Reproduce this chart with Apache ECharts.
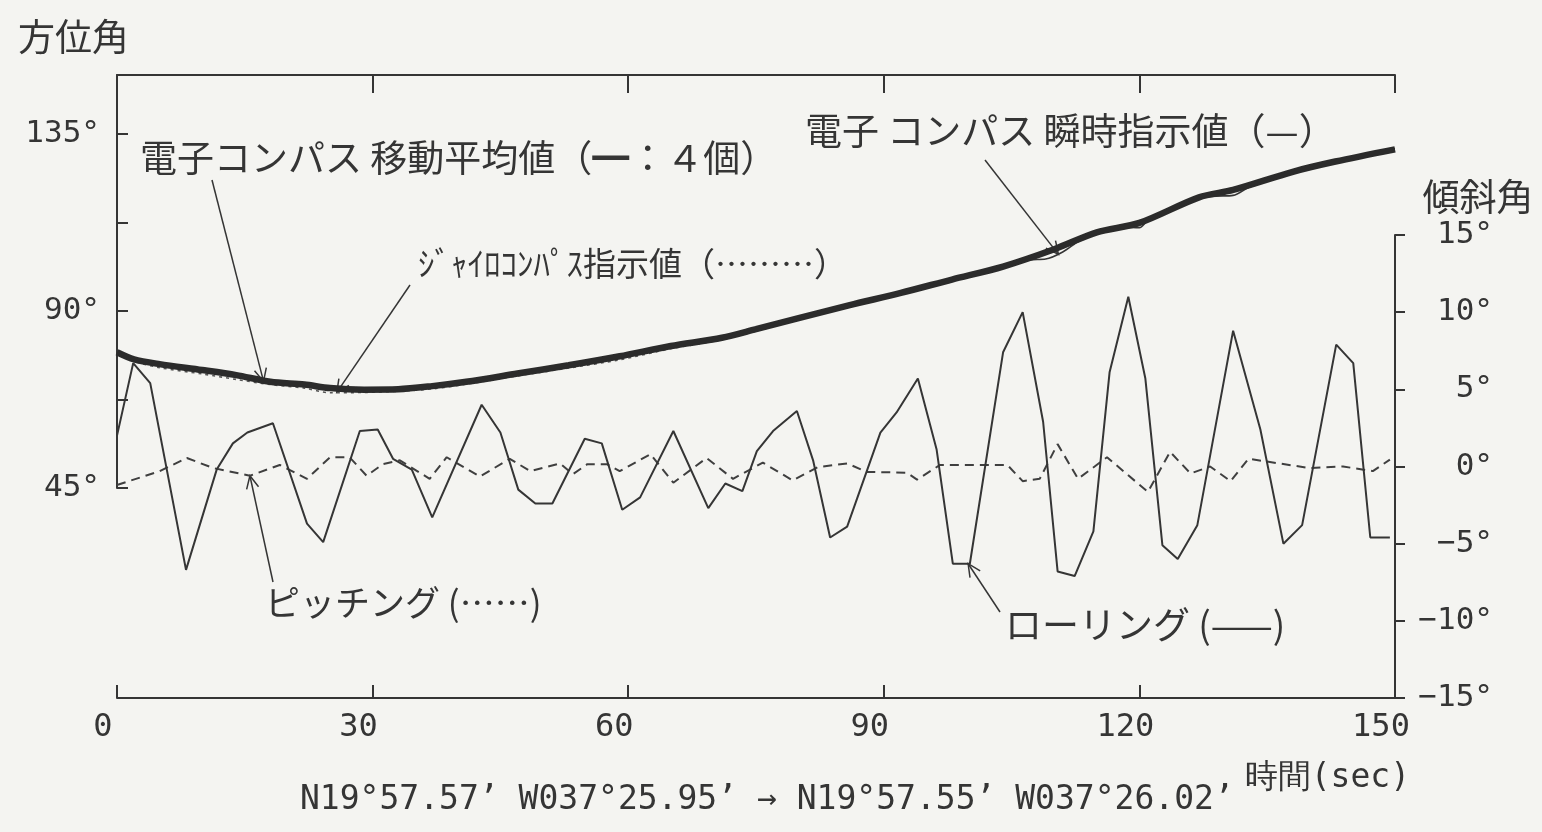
<!DOCTYPE html>
<html>
<head>
<meta charset="utf-8">
<script src="https://cdn.jsdelivr.net/npm/echarts@6/dist/echarts.min.js"></script>
<style>
  html, body { margin: 0; padding: 0; background: #f4f4f1; }
  #chart { width: 1542px; height: 832px; }
</style>
</head>
<body>
<div id="chart"></div>
<script>
// 時間 (sec)
const headingTime = [0, 2, 5, 10, 14, 18, 22, 25, 29, 33, 37, 41, 47, 53, 59, 65, 71, 75, 80, 86, 92, 98, 104, 110, 115, 120, 127, 131, 138, 143, 150];
// 電子コンパス 移動平均値 (4個)
const compassAvg = [79.5, 77.7, 76.5, 75.0, 73.7, 72.0, 71.3, 70.4, 70.0, 70.1, 70.9, 72.0, 74.1, 76.2, 78.5, 81.1, 83.2, 85.4, 88.2, 91.5, 94.6, 98.0, 101.3, 105.7, 110.0, 112.4, 118.9, 120.8, 125.4, 128.0, 131.1];
// ジャイロコンパス指示値 (same times)
const gyroHeading = [79.0, 77.2, 75.6, 74.0, 72.6, 71.3, 70.4, 69.2, 69.3, 69.6, 70.2, 71.4, 73.5, 75.5, 77.6, 80.4, 82.7, 84.9, 87.8, 91.1, 94.2, 97.6, 100.9, 105.2, 109.5, 112.0, 118.5, 120.3, 125.0, 127.6, 130.8];
// 電子コンパス 瞬時指示値
const instTime = [0, 2, 5, 10, 14, 18, 22, 25, 29, 33, 37, 41, 47, 53, 59, 65, 71, 75, 80, 86, 92, 98, 104, 107, 109, 111, 113, 115, 118, 120, 121, 127, 129, 131, 133, 138, 143, 150];
const compassInst = [79.8, 77.5, 76.7, 74.8, 73.9, 71.8, 71.5, 70.2, 70.1, 69.9, 71.1, 71.8, 74.3, 76.0, 78.7, 80.9, 83.4, 85.2, 88.4, 91.3, 94.8, 97.8, 101.5, 103.0, 103.2, 105.0, 107.9, 109.8, 111.3, 111.2, 113.0, 118.7, 119.2, 119.4, 121.6, 125.2, 128.2, 131.3];

// ローリング (deg)
const rollTime = [0, 1.9, 3.9, 8.1, 11.7, 13.6, 15.3, 18.3, 22.3, 24.2, 28.5, 30.6, 32.4, 34.6, 37.0, 42.8, 45.0, 47.1, 49.1, 51.1, 54.9, 56.9, 59.3, 61.4, 65.3, 69.4, 71.4, 73.4, 75.1, 77.0, 79.8, 81.7, 83.7, 85.7, 89.6, 91.5, 94.0, 96.2, 98.1, 100.1, 104.0, 106.3, 108.7, 110.4, 112.4, 114.6, 116.5, 118.7, 120.7, 122.7, 124.5, 126.8, 131.0, 134.2, 136.9, 139.1, 143.1, 145.1, 147.1, 149.4];
const rollDeg = [2.0, 6.7, 5.4, -6.7, -0.2, 1.5, 2.2, 2.8, -3.7, -4.9, 2.3, 2.4, 0.5, -0.2, -3.3, 4.0, 2.2, -1.5, -2.4, -2.4, 1.8, 1.5, -2.8, -2.0, 2.3, -2.7, -1.1, -1.6, 1.0, 2.3, 3.6, 0.4, -4.6, -3.9, 2.2, 3.5, 5.7, 1.1, -6.3, -6.3, 7.4, 10.0, 2.9, -6.8, -7.1, -4.2, 6.1, 11.0, 5.7, -5.1, -6.0, -3.8, 8.8, 2.4, -5.0, -3.8, 7.9, 6.7, -4.6, -4.6];

// ピッチング (deg)
const pitchTime = [0, 5.0, 8.2, 11.3, 15.6, 19.1, 22.3, 25.0, 27.3, 29.3, 31.2, 33.2, 36.7, 38.7, 42.6, 46.1, 48.5, 52.0, 53.5, 55.2, 57.5, 59.0, 62.6, 65.3, 69.2, 72.3, 75.8, 79.3, 82.2, 85.7, 88.0, 92.7, 93.9, 96.6, 104.5, 106.3, 108.3, 110.4, 112.8, 116.2, 121.0, 123.6, 126.0, 128.3, 130.7, 132.8, 140.0, 143.9, 147.4, 149.4];
const pitchDeg = [-1.2, -0.3, 0.55, -0.1, -0.6, 0.1, -0.8, 0.6, 0.6, -0.6, 0.15, 0.4, -0.8, 0.6, -0.65, 0.5, -0.3, 0.2, -0.5, 0.15, 0.15, -0.3, 0.8, -1.05, 0.55, -0.8, 0.25, -0.9, -0.05, 0.2, -0.35, -0.4, -0.85, 0.1, 0.1, -0.95, -0.8, 1.45, -0.8, 0.6, -1.65, 0.95, -0.45, 0, -0.95, 0.5, -0.1, 0, -0.3, 0.45];

const position = 'N19°57.57’ W037°25.95’ → N19°57.55’ W037°26.02’';

const ink = '#353535';
const jp = '"Noto Sans CJK JP", sans-serif';
const mono = '"DejaVu Sans Mono", monospace';

const pairs = (ts, vs) => ts.map((t, i) => [t, vs[i]]);

const chart = echarts.init(document.getElementById('chart'));

chart.setOption({
  animation: false,
  backgroundColor: '#f4f4f1',
  title: {
    text: position,
    left: 300,
    top: 784,
    padding: 0,
    textStyle: { fontFamily: mono, fontSize: 33, fontWeight: 'normal', color: ink }
  },
  grid: [
    // 方位角
    { left: 117, top: 75, width: 1278, height: 413 },
    // 傾斜角
    { left: 117, top: 235, width: 1278, height: 463 }
  ],
  xAxis: [
    {
      gridIndex: 0, type: 'value', position: 'top', min: 0, max: 150, interval: 30,
      axisLine: { onZero: false, lineStyle: { color: ink, width: 2 } },
      axisTick: { inside: true, length: 18, lineStyle: { color: ink, width: 2 } },
      axisLabel: { show: false },
      splitLine: { show: false }
    },
    {
      gridIndex: 1, type: 'value', position: 'bottom', min: 0, max: 150, interval: 30,
      axisLine: { onZero: false, lineStyle: { color: ink, width: 2 } },
      axisTick: { inside: true, length: 13, lineStyle: { color: ink, width: 2 } },
      axisLabel: { color: ink, fontFamily: mono, fontSize: 32, margin: 14, padding: [0, 28, 0, 0] },
      splitLine: { show: false },
      name: '時間(sec)',
      nameLocation: 'end',
      nameGap: 15,
      nameTextStyle: { color: ink, fontFamily: mono, fontSize: 33, align: 'right', verticalAlign: 'top', padding: [64, 0, 0, 0] }
    }
  ],
  yAxis: [
    {
      gridIndex: 0, type: 'value', position: 'left', min: 45, max: 150, interval: 22.5,
      axisLine: { show: true, onZero: false, lineStyle: { color: ink, width: 2 } },
      axisTick: { show: true, inside: true, length: 11, lineStyle: { color: ink, width: 2 } },
      axisLabel: { color: ink, fontFamily: mono, fontSize: 31, margin: 17, formatter: v => (v % 45 === 0 ? v + '°' : '') },
      splitLine: { show: false },
      name: '方位角',
      nameLocation: 'end',
      nameGap: 20,
      nameTextStyle: { color: ink, fontFamily: jp, fontSize: 37, align: 'center', verticalAlign: 'bottom', padding: [0, 87, 0, 0] }
    },
    {
      gridIndex: 1, type: 'value', position: 'right', min: -15, max: 15, interval: 5,
      axisLine: { show: true, onZero: false, lineStyle: { color: ink, width: 2 } },
      axisTick: { show: true, inside: false, length: 10, lineStyle: { color: ink, width: 2 } },
      axisLabel: { color: ink, fontFamily: mono, fontSize: 31, margin: 98, align: 'right', formatter: v => (v < 0 ? '−' + (-v) : v) + '°' },
      splitLine: { show: false },
      name: '傾斜角',
      nameLocation: 'end',
      nameGap: 20,
      nameTextStyle: { color: ink, fontFamily: jp, fontSize: 37, align: 'center', verticalAlign: 'bottom', padding: [0, 0, 0, 166] }
    }
  ],
  series: [
    {
      name: 'ピッチング', type: 'line', xAxisIndex: 1, yAxisIndex: 1, symbol: 'none',
      data: pairs(pitchTime, pitchDeg),
      lineStyle: { color: '#3f3f3f', width: 2, type: [9, 6] }
    },
    {
      name: 'ローリング', type: 'line', xAxisIndex: 1, yAxisIndex: 1, symbol: 'none',
      data: pairs(rollTime, rollDeg),
      lineStyle: { color: ink, width: 2 }
    },
    {
      name: 'ジャイロコンパス指示値', type: 'line', xAxisIndex: 0, yAxisIndex: 0, symbol: 'none', smooth: 0.3,
      data: pairs(headingTime, gyroHeading),
      lineStyle: { color: '#555', width: 1.6, type: [3, 4] }
    },
    {
      name: '電子コンパス 瞬時指示値', type: 'line', xAxisIndex: 0, yAxisIndex: 0, symbol: 'none', smooth: 0.3,
      data: pairs(instTime, compassInst),
      lineStyle: { color: ink, width: 1.6 }
    },
    {
      name: '電子コンパス 移動平均値', type: 'line', xAxisIndex: 0, yAxisIndex: 0, symbol: 'none', smooth: 0.3,
      data: pairs(headingTime, compassAvg),
      lineStyle: { color: '#2b2b2b', width: 6.5 }
    }
  ]
});

// annotations: label text, leader start, and the point on the curve it points at
const notes = [
  { text: '電子コンパス 移動平均値（━：４個）', x: 140, y: 158, size: 37, from: [212, 180], grid: 0, at: [17.2, 72.1] },
  { text: '電子 コンパス 瞬時指示値（—）', x: 805, y: 131, size: 37, from: [985, 160], grid: 0, at: [110.5, 104.4] },
  { text: 'ｼﾞｬｲﾛｺﾝﾊﾟｽ指示値（………）', x: 418, y: 263, size: 33, from: [410, 285], grid: 0, at: [25.8, 69.3] },
  { text: 'ピッチング (……)', x: 265, y: 603, size: 35, from: [273, 582], grid: 1, at: [15.6, -0.6] },
  { text: 'ローリング (——)', x: 1005, y: 625, size: 37, from: [1000, 612], grid: 1, at: [99.9, -6.3] }
];

function leader(from, tip) {
  const dx = tip[0] - from[0], dy = tip[1] - from[1];
  const L = Math.hypot(dx, dy);
  const ux = dx / L, uy = dy / L;
  const len = 14, a = 0.45;
  const arm = s => [
    tip[0] - len * (ux * Math.cos(s * a) - uy * Math.sin(s * a)),
    tip[1] - len * (uy * Math.cos(s * a) + ux * Math.sin(s * a))
  ];
  return [
    { type: 'line', silent: true, shape: { x1: from[0], y1: from[1], x2: tip[0], y2: tip[1] }, style: { stroke: ink, lineWidth: 1.5 } },
    { type: 'polyline', silent: true, shape: { points: [arm(1), tip, arm(-1)] }, style: { stroke: ink, lineWidth: 1.5, fill: null } }
  ];
}

const graphics = [];
notes.forEach(n => {
  const tip = chart.convertToPixel({ xAxisIndex: n.grid, yAxisIndex: n.grid }, n.at);
  graphics.push({
    type: 'text', x: n.x, y: n.y, silent: true,
    style: { text: n.text, fill: ink, fontSize: n.size, fontFamily: jp, verticalAlign: 'middle' }
  });
  graphics.push(...leader(n.from, tip));
});

chart.setOption({ graphic: graphics });
</script>
</body>
</html>
